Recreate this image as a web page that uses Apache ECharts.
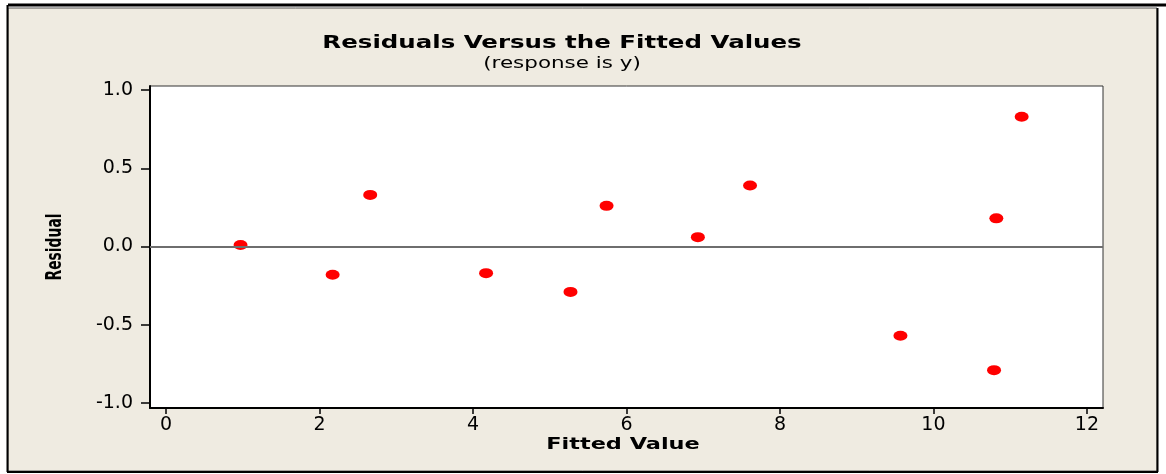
<!DOCTYPE html>
<html>
<head>
<meta charset="utf-8">
<script src="https://cdn.jsdelivr.net/npm/echarts@6/dist/echarts.min.js"></script>
<style>
  html, body { margin: 0; padding: 0; background: #ffffff; }
  #chart { width: 1166px; height: 474px; }
</style>
</head>
<body>
<div id="chart"></div>
<script>
const fittedValues = [0.97, 2.17, 2.66, 4.17, 5.27, 5.74, 6.93, 7.61, 9.57, 10.79, 10.82, 11.15];
const residuals = [0.01, -0.18, 0.33, -0.17, -0.29, 0.26, 0.06, 0.39, -0.57, -0.79, 0.18, 0.83];
const xTicks = [0, 2, 4, 6, 8, 10, 12];
const yTicks = [-1.0, -0.5, 0.0, 0.5, 1.0];
const titleText = 'Residuals Versus the Fitted Values';
const subtitleText = '(response is y)';
const xName = 'Fitted Value';
const yName = 'Residual';

const points = fittedValues.map((x, i) => [x, residuals[i]]);

const chart = echarts.init(document.getElementById('chart'));
chart.setOption({
  animation: false,
  backgroundColor: '#ffffff',
  graphic: [
    { type: 'rect', z: -100, shape: { x: 8, y: 8, width: 1149, height: 463 },
      style: { fill: '#EFEBE1', stroke: '#555', lineWidth: 1 } },
    { type: 'line', z: -90, shape: { x1: 8, y1: 5, x2: 1166, y2: 5 }, style: { stroke: '#000', lineWidth: 3 } },
    { type: 'line', z: -90, shape: { x1: 7.5, y1: 5, x2: 7.5, y2: 472 }, style: { stroke: '#000', lineWidth: 2 } },
    { type: 'line', z: -90, shape: { x1: 7, y1: 472, x2: 1158, y2: 472 }, style: { stroke: '#000', lineWidth: 2 } },
    { type: 'line', z: -90, shape: { x1: 1157.5, y1: 8, x2: 1157.5, y2: 472 }, style: { stroke: '#000', lineWidth: 2 } },
    { type: 'text', z: 10, x: 562, y: 44, scaleX: 1.44,
      style: { text: titleText, x: 0, y: 0, align: 'center', verticalAlign: 'middle',
        fontFamily: 'DejaVu Sans', fontWeight: 'bold', fontSize: 17, fill: '#000' } },
    { type: 'text', z: 10, x: 562, y: 64, scaleX: 1.43,
      style: { text: subtitleText, x: 0, y: 0, align: 'center', verticalAlign: 'middle',
        fontFamily: 'DejaVu Sans', fontSize: 15, fill: '#000' } },
    { type: 'text', z: 10, x: 623, y: 445, scaleX: 1.4,
      style: { text: xName, x: 0, y: 0, align: 'center', verticalAlign: 'middle',
        fontFamily: 'DejaVu Sans', fontWeight: 'bold', fontSize: 16, fill: '#000' } },
    { type: 'text', z: 10, x: 55, y: 247, rotation: Math.PI / 2, scaleX: 0.63,
      style: { text: yName, x: 0, y: 0, align: 'center', verticalAlign: 'middle',
        fontFamily: 'DejaVu Sans', fontWeight: 'bold', fontSize: 22, fill: '#000' } }
  ],
  grid: {
    left: 150, right: 63, top: 86, bottom: 66,
    show: true, backgroundColor: '#ffffff', borderColor: '#333', borderWidth: 1
  },
  xAxis: {
    type: 'value',
    min: -0.21, max: 12.21,
    axisLine: { show: true, onZero: false, lineStyle: { color: '#000', width: 2 } },
    axisTick: { show: true, customValues: xTicks, length: 6, lineStyle: { color: '#000', width: 1.5 } },
    axisLabel: { customValues: xTicks, margin: 8, fontFamily: 'DejaVu Sans', fontSize: 19, color: '#000' },
    splitLine: { show: false }
  },
  yAxis: {
    type: 'value',
    min: -1.032, max: 1.026,
    axisLine: { show: true, onZero: false, lineStyle: { color: '#000', width: 2 } },
    axisTick: { show: true, customValues: yTicks, length: 9, lineStyle: { color: '#000', width: 1.5 } },
    axisLabel: { customValues: yTicks, margin: 17, fontFamily: 'DejaVu Sans', fontSize: 19, color: '#000',
      formatter: v => v.toFixed(1) },
    splitLine: { show: false }
  },
  series: [{
    type: 'scatter',
    data: points,
    symbol: 'circle',
    symbolSize: [14, 10],
    itemStyle: { color: '#FF0000', opacity: 1 },
    markLine: {
      silent: true,
      symbol: 'none',
      label: { show: false },
      lineStyle: { color: '#6e6e6e', width: 2, type: 'solid' },
      data: [{ yAxis: 0 }]
    }
  }]
});
</script>
</body>
</html>
